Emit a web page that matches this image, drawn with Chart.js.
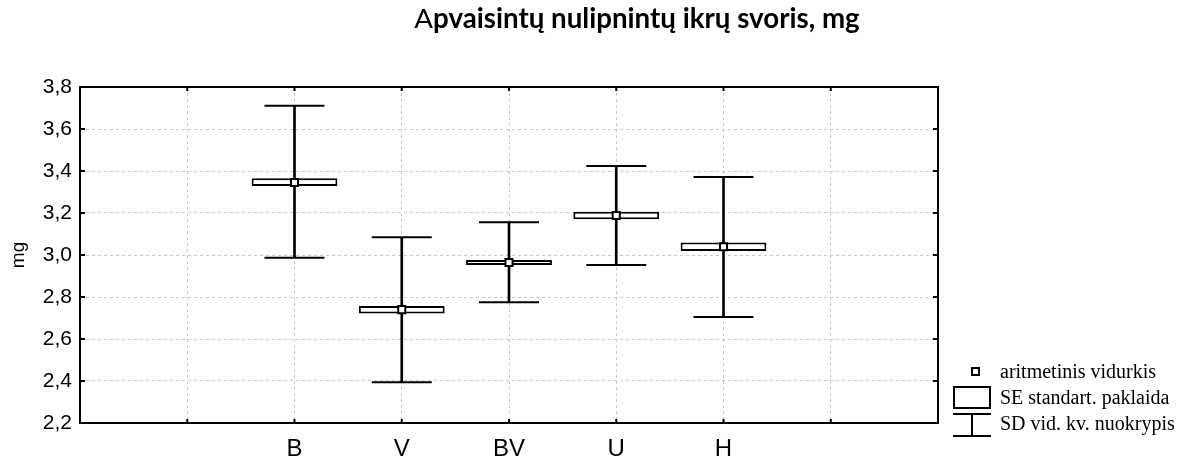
<!DOCTYPE html>
<html>
<head>
<meta charset="utf-8">
<script src="https://cdn.jsdelivr.net/npm/chart.js@4.4.0/dist/chart.umd.min.js"></script>
<style>
    html, body { margin: 0; padding: 0; background: #fff; }
    #wrap { position: relative; width: 1185px; height: 461px; }
    #title {
        position: absolute; top: 1px; left: 637px; transform: translateX(-50%);
        white-space: nowrap; font-family: Lato, "Open Sans", sans-serif;
        font-size: 27.7px; line-height: 1.2; font-weight: bold; color: #000;
    }
    #title span { font-weight: normal; }
</style>
</head>
<body>
<div id="wrap">
    <div id="title"><span>A</span>pvaisintų nulipnintų ikrų svoris, mg</div>
    <canvas id="chart" width="1185" height="461"></canvas>
</div>
<script>
// slots on the x axis (empty ones left and right of the groups)
const xLabels = ['', '', 'B', 'V', 'BV', 'U', 'H', '', ''];
const groups = ['B', 'V', 'BV', 'U', 'H'];

// values, mg
const means = [3.345, 2.740, 2.964, 3.188, 3.039];
const seLow = [3.329, 2.722, 2.952, 3.170, 3.019];
const seHigh = [3.365, 2.757, 2.976, 3.206, 3.059];
const sdLow = [2.987, 2.394, 2.775, 2.952, 2.705];
const sdHigh = [3.711, 3.084, 3.156, 3.424, 3.371];

const yMin = 2.2;
const yMax = 3.8;
const yStep = 0.2;

const legendLabels = ['aritmetinis vidurkis', 'SE standart. paklaida', 'SD vid. kv. nuokrypis'];

// map group values onto the x slots
function toSlots(vals) {
    return xLabels.map(l => {
        const i = groups.indexOf(l);
        return i < 0 ? null : vals[i];
    });
}
function rangeSlots(lo, hi) {
    return xLabels.map(l => {
        const i = groups.indexOf(l);
        return i < 0 ? null : [lo[i], hi[i]];
    });
}

// frame, inward tick marks and the legend
const frame = {
    id: 'frame',
    afterDraw(chart) {
        const { ctx, chartArea: a, scales: { x, y } } = chart;
        ctx.save();
        ctx.strokeStyle = '#000';
        ctx.lineWidth = 2;
        ctx.strokeRect(a.left, a.top, a.right - a.left, a.bottom - a.top);

        ctx.beginPath();
        y.ticks.forEach((t, i) => {
            const py = y.getPixelForTick(i);
            ctx.moveTo(a.left, py); ctx.lineTo(a.left + 5, py);
            ctx.moveTo(a.right, py); ctx.lineTo(a.right - 5, py);
        });
        x.ticks.forEach((t, i) => {
            const px = x.getPixelForTick(i);
            ctx.moveTo(px, a.top); ctx.lineTo(px, a.top + 4);
            ctx.moveTo(px, a.bottom); ctx.lineTo(px, a.bottom - 4);
        });
        ctx.stroke();

        // legend
        const lx = a.right + 15;
        const tx = a.right + 62;
        const cx = lx + 19;
        ctx.fillStyle = '#fff';
        ctx.fillRect(cx, a.bottom - 55, 7, 7);
        ctx.strokeRect(cx, a.bottom - 55, 7, 7);
        ctx.strokeRect(lx + 1, a.bottom - 36, 36, 21);
        ctx.beginPath();
        ctx.moveTo(lx, a.bottom - 9); ctx.lineTo(lx + 38, a.bottom - 9);
        ctx.moveTo(lx + 19, a.bottom - 9); ctx.lineTo(lx + 19, a.bottom + 13);
        ctx.moveTo(lx, a.bottom + 13); ctx.lineTo(lx + 38, a.bottom + 13);
        ctx.stroke();

        ctx.fillStyle = '#000';
        ctx.font = '20px "Liberation Serif", serif';
        ctx.textBaseline = 'alphabetic';
        ctx.textAlign = 'left';
        ctx.fillText(legendLabels[0], tx, a.bottom - 45);
        ctx.fillText(legendLabels[1], tx, a.bottom - 19);
        ctx.fillText(legendLabels[2], tx, a.bottom + 7);
        ctx.restore();
    }
};

new Chart(document.getElementById('chart'), {
    type: 'bar',
    data: {
        labels: xLabels,
        datasets: [
            {
                // SD whisker stem
                type: 'bar',
                data: rangeSlots(sdLow, sdHigh),
                backgroundColor: '#000',
                borderWidth: 0,
                barThickness: 2,
                grouped: false,
                order: 4
            },
            {
                // SD caps, lower
                type: 'line',
                data: toSlots(sdLow),
                showLine: false,
                pointStyle: 'line',
                pointRadius: 30,
                pointBorderWidth: 2,
                pointBorderColor: '#000',
                order: 3
            },
            {
                // SD caps, upper
                type: 'line',
                data: toSlots(sdHigh),
                showLine: false,
                pointStyle: 'line',
                pointRadius: 30,
                pointBorderWidth: 2,
                pointBorderColor: '#000',
                order: 3
            },
            {
                // SE box
                type: 'bar',
                data: rangeSlots(seLow, seHigh),
                backgroundColor: '#fff',
                borderColor: '#000',
                borderWidth: 2,
                borderSkipped: false,
                categoryPercentage: 1,
                barPercentage: 0.8,
                grouped: false,
                order: 2
            },
            {
                // mean
                type: 'line',
                data: toSlots(means),
                showLine: false,
                pointStyle: 'rect',
                pointRadius: 5,
                pointBackgroundColor: '#fff',
                pointBorderColor: '#000',
                pointBorderWidth: 2,
                order: 1
            }
        ]
    },
    options: {
        responsive: false,
        animation: false,
        events: [],
        layout: { padding: { top: 87, right: 247, bottom: 0, left: 0 } },
        plugins: {
            legend: { display: false },
            title: { display: false },
            tooltip: { enabled: false }
        },
        scales: {
            x: {
                type: 'category',
                offset: false,
                grid: { color: '#c8c8c8', lineWidth: 1, drawTicks: false, offset: false },
                border: { display: false, dash: [3, 3] },
                ticks: {
                    color: '#000',
                    autoSkip: false,
                    maxRotation: 0,
                    padding: 12,
                    font: { family: '"Liberation Sans", Arial, sans-serif', size: 24 }
                },
                afterFit: s => { s.height = 38; }
            },
            y: {
                min: yMin,
                max: yMax,
                grid: { color: '#c8c8c8', lineWidth: 1, drawTicks: false },
                border: { display: false, dash: [3, 3] },
                ticks: {
                    stepSize: yStep,
                    color: '#000',
                    padding: 8,
                    font: { family: '"Liberation Sans", Arial, sans-serif', size: 21 },
                    callback: v => v.toFixed(1).replace('.', ',')
                },
                title: {
                    display: true,
                    text: 'mg',
                    color: '#000',
                    padding: { top: 7, bottom: 0 },
                    font: { family: '"Liberation Sans", Arial, sans-serif', size: 19 }
                },
                afterFit: s => { s.width = 80; }
            }
        }
    },
    plugins: [frame]
});
</script>
</body>
</html>
